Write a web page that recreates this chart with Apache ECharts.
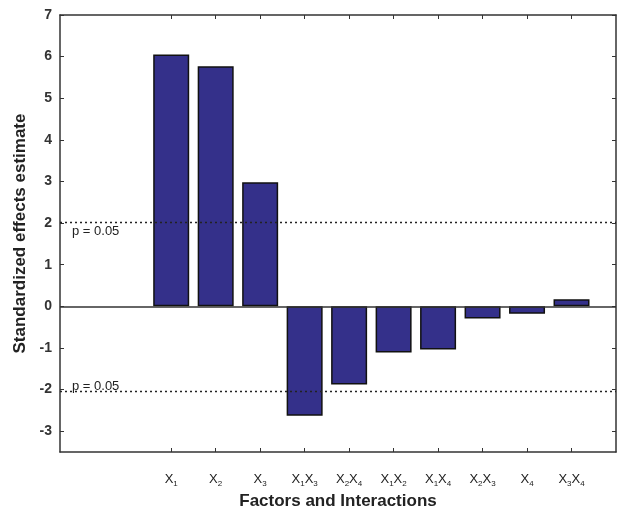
<!DOCTYPE html>
<html>
<head>
<meta charset="utf-8">
<title>Standardized effects</title>
<script src="https://cdn.jsdelivr.net/npm/echarts@6/dist/echarts.min.js"></script>
<style>
  html, body { margin: 0; padding: 0; background: #fff; }
  #main { width: 621px; height: 506px; }
</style>
</head>
<body>
<div id="main"></div>
<script>
// factor names (digits become subscripts) and their positions on the x axis
var categories = ['X1', 'X2', 'X3', 'X1X3', 'X2X4', 'X1X2', 'X1X4', 'X2X3', 'X4', 'X3X4'];
var positions = [1, 2, 3, 4, 5, 6, 7, 8, 9, 10];
var effects = [6.05, 5.77, 2.98, -2.63, -1.88, -1.11, -1.04, -0.29, -0.18, 0.17];
var yTicks = [-3, -2, -1, 0, 1, 2, 3, 4, 5, 6, 7];
var critical = 2.03;

var chart = echarts.init(document.getElementById('main'));

var font = 'Liberation Sans, Arial, sans-serif';

function subLabel(v) {
    var idx = positions.indexOf(v);
    if (idx < 0) return '';
    return categories[idx].replace(/X(\d)/g, '{b|X}{s|$1}');
}

var barData = positions.map(function (p, i) { return [p, effects[i]]; });

var option = {
    animation: false,
    grid: { left: 60, right: 5, top: 15, bottom: 54, containLabel: false, outerBoundsMode: 'none' },
    xAxis: [{
        type: 'value',
        min: -1.5,
        max: 11,
        position: 'bottom',
        splitLine: { show: false },
        axisLine: { onZero: false, lineStyle: { color: '#333', width: 1.5 } },
        axisTick: { inside: true, length: 4, customValues: positions, lineStyle: { color: '#333' } },
        axisLabel: {
            customValues: positions,
            formatter: subLabel,
            margin: 19,
            rich: {
                b: { fontFamily: font, fontSize: 13, color: '#222' },
                s: { fontFamily: font, fontSize: 8, color: '#222', padding: [9, 0, 0, 0] }
            }
        },
        name: 'Factors and Interactions',
        nameLocation: 'middle',
        nameGap: 35,
        nameTextStyle: { fontFamily: font, fontSize: 17, fontWeight: 'bold', color: '#222' }
    }, {
        type: 'value',
        min: -1.5,
        max: 11,
        position: 'top',
        splitLine: { show: false },
        axisLine: { onZero: false, lineStyle: { color: '#333', width: 1.5 } },
        axisTick: { inside: true, length: 4, customValues: positions, lineStyle: { color: '#333' } },
        axisLabel: { show: false }
    }],
    yAxis: [{
        type: 'value',
        min: -3.5,
        max: 7,
        splitLine: { show: false },
        axisLine: { show: true, onZero: false, lineStyle: { color: '#333', width: 1.5 } },
        axisTick: { show: true, inside: true, length: 4, customValues: yTicks, lineStyle: { color: '#333' } },
        axisLabel: {
            customValues: yTicks,
            fontFamily: font, fontSize: 14, fontWeight: 'bold', color: '#333', margin: 8
        },
        name: 'Standardized effects estimate',
        nameLocation: 'middle',
        nameGap: 24,
        nameTextStyle: { fontFamily: font, fontSize: 17, fontWeight: 'bold', color: '#222' }
    }, {
        type: 'value',
        min: -3.5,
        max: 7,
        position: 'right',
        splitLine: { show: false },
        axisLine: { show: true, onZero: false, lineStyle: { color: '#333', width: 1.5 } },
        axisTick: { show: true, inside: true, length: 4, customValues: yTicks, lineStyle: { color: '#333' } },
        axisLabel: { show: false }
    }],
    series: [{
        type: 'bar',
        data: barData,
        barWidth: 36,
        itemStyle: { color: '#34308a', borderColor: '#111', borderWidth: 1.5 },
        markLine: {
            silent: true,
            symbol: 'none',
            data: [
                { yAxis: critical, lineStyle: { type: [2, 3], color: '#222', width: 1.3 },
                  label: { show: true, position: 'insideStartBottom', formatter: 'p = 0.05', distance: [12, 3] } },
                { yAxis: -critical, lineStyle: { type: [2, 3], color: '#222', width: 1.3 },
                  label: { show: true, position: 'insideStartTop', formatter: 'p = 0.05', distance: [12, -2] } },
                { yAxis: 0, lineStyle: { type: 'solid', color: '#333', width: 1.5 }, label: { show: false } }
            ],
            label: { fontFamily: font, fontSize: 13, color: '#222' }
        }
    }]
};

chart.setOption(option);
</script>
</body>
</html>
